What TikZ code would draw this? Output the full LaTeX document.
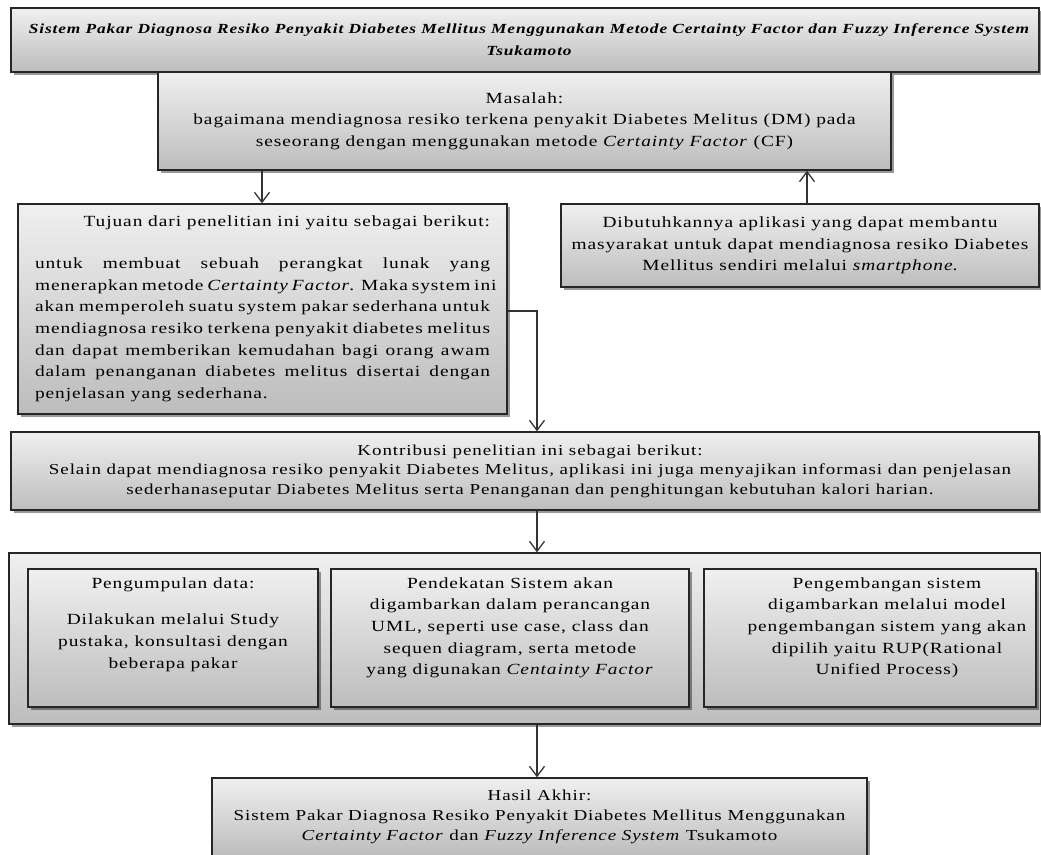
\documentclass[tikz,border=0pt]{standalone}
\usepackage{fontspec}
\setmainfont{Liberation Serif}[FakeStretch=1.25,LetterSpace=6]
\usetikzlibrary{arrows.meta,shadows}
\begin{document}
\begin{tikzpicture}[x=1pt,y=-1pt,
  box/.style={draw=black!85,line width=1.3pt,top color=gray!12,bottom color=gray!52,
    drop shadow={shadow xshift=2.5pt,shadow yshift=-3pt,fill=black,opacity=0.4},
    align=center,inner sep=0pt,font=\fontsize{15.5}{21.7}\selectfont},
  arr/.style={draw=black!80,line width=1.3pt,-{Straight Barb[length=10pt,width=15pt]}}]
\useasboundingbox (0,0) rectangle (1041,854);
\clip (0,0) rectangle (1041,854);
% named x/y positions
\coordinate (xa) at (262,0);
\coordinate (xb) at (807,0);
\coordinate (xk) at (537,0);
\coordinate (yk) at (0,311);

\node[box,minimum width=1028pt,minimum height=64pt,font=\bfseries\itshape\fontsize{13.9}{22}\selectfont] (title) at (525,40)
 {\hspace*{8pt}Sistem Pakar Diagnosa Resiko Penyakit Diabetes Mellitus Menggunakan Metode Certainty Factor dan Fuzzy Inference System\\ \hspace*{8pt}Tsukamoto};

\node[box,minimum width=733pt,minimum height=98pt] (masalah) at (524.5,121)
 {Masalah:\\ bagaimana mendiagnosa resiko terkena penyakit Diabetes Melitus (DM) pada\\ seseorang dengan menggunakan metode \textit{Certainty Factor} (CF)};

\node[box,minimum width=489pt,minimum height=210pt] (tujuan) at (262.5,309)
 {\parbox{455pt}{\hfill Tujuan dari penelitian ini yaitu sebagai berikut:\\[20pt]
 \makebox[455pt][s]{untuk membuat sebuah perangkat lunak yang}\\
 \makebox[455pt][s]{menerapkan metode \textit{Certainty Factor}. Maka system ini}\\
 \makebox[455pt][s]{akan memperoleh suatu system pakar sederhana untuk}\\
 \makebox[455pt][s]{mendiagnosa resiko terkena penyakit diabetes melitus}\\
 \makebox[455pt][s]{dan dapat memberikan kemudahan bagi orang awam}\\
 \makebox[455pt][s]{dalam penanganan diabetes melitus disertai dengan}\\
 penjelasan yang sederhana.}};

\node[box,minimum width=478pt,minimum height=83pt] (butuh) at (800,245.5)
 {Dibutuhkannya aplikasi yang dapat membantu\\ masyarakat untuk dapat mendiagnosa resiko Diabetes\\ Mellitus sendiri melalui \textit{smartphone}.};

\node[box,minimum width=1028pt,minimum height=78pt,font=\fontsize{15.2}{19.5}\selectfont] (kontrib) at (525,471)
 {\hspace*{10pt}Kontribusi penelitian ini sebagai berikut:\\ \hspace*{10pt}Selain dapat mendiagnosa resiko penyakit Diabetes Melitus, aplikasi ini juga menyajikan informasi dan penjelasan\\ \hspace*{10pt}sederhanaseputar Diabetes Melitus serta Penanganan dan penghitungan kebutuhan kalori harian.};

\node[box,minimum width=1032pt,minimum height=171pt] (wadah) at (525,638.5) {};

\node[box,minimum width=290pt,minimum height=138pt] (b1) at (173,638)
 {\parbox[c][130pt][t]{280pt}{\centering\strut Pengumpulan data:\\[15pt] Dilakukan melalui Study\\ pustaka, konsultasi dengan\\ beberapa pakar}};

\node[box,minimum width=358pt,minimum height=138pt] (b2) at (510,638)
 {\parbox[c][130pt][t]{350pt}{\centering\strut Pendekatan Sistem akan\\ digambarkan dalam perancangan\\ UML, seperti use case, class dan\\ sequen diagram, serta metode\\ yang digunakan \textit{Centainty Factor}}};

\node[box,minimum width=332pt,minimum height=138pt] (b3) at (870,638)
 {\parbox[c][130pt][t]{320pt}{\centering\hspace*{34pt}\strut Pengembangan sistem\\ \hspace*{34pt}digambarkan melalui model\\ \hspace*{34pt}pengembangan sistem yang akan\\ \hspace*{34pt}dipilih yaitu RUP(Rational\\ \hspace*{34pt}Unified Process)}};

\node[box,minimum width=655pt,minimum height=78pt,font=\fontsize{15.2}{20}\selectfont] (hasil) at (539.5,817)
 {Hasil Akhir:\\ Sistem Pakar Diagnosa Resiko Penyakit Diabetes Mellitus Menggunakan\\ \textit{Certainty Factor} dan \textit{Fuzzy Inference System} Tsukamoto};

\draw[arr] (masalah.south -| xa) -- (tujuan.north -| xa);
\draw[arr] (butuh.north -| xb) -- (masalah.south -| xb);
\draw[arr] (tujuan.east |- yk) -- (xk |- yk) -- (kontrib.north -| xk);
\draw[arr] (kontrib.south -| xk) -- (wadah.north -| xk);
\draw[arr] (wadah.south -| xk) -- (hasil.north -| xk);
\end{tikzpicture}
\end{document}
